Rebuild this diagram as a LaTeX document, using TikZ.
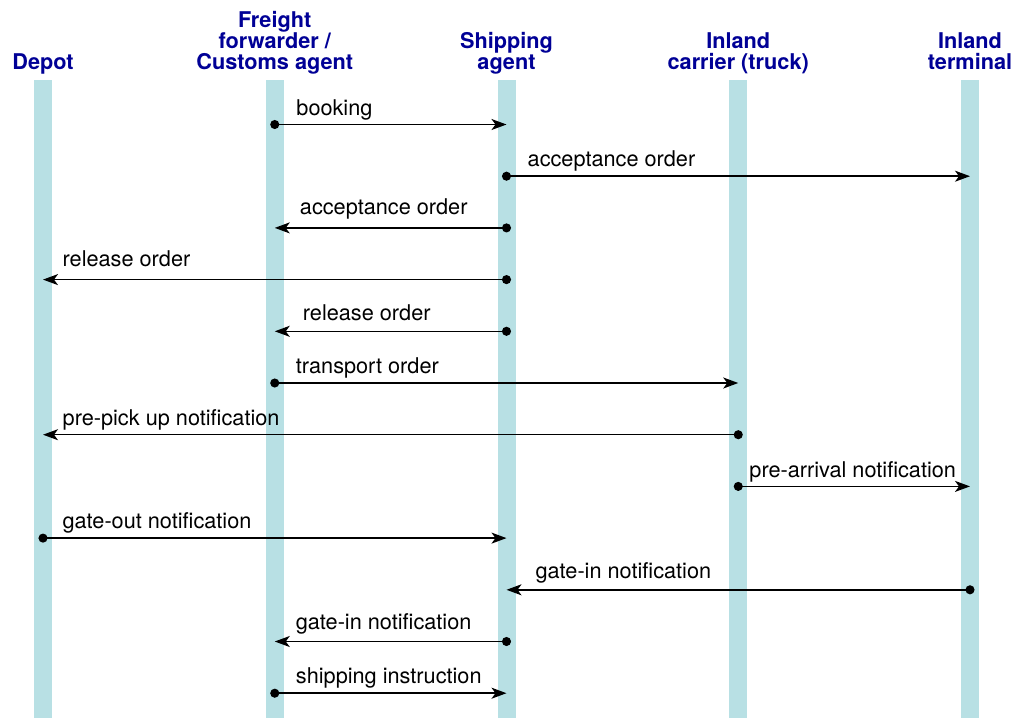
\documentclass[tikz,border=0pt]{standalone}
\usepackage{fontspec}
\setmainfont{TeX Gyre Heros}
\usetikzlibrary{positioning,arrows.meta}

\definecolor{lanecol}{RGB}{184,224,228}
\definecolor{headcol}{RGB}{0,0,150}

\tikzset{
  lane/.style={fill=lanecol, draw=none, minimum width=18pt, minimum height=638pt,
    inner sep=0pt, outer sep=0pt},
  head/.style={align=center, text=headcol, inner sep=0pt, text depth=5pt,
    font=\fontsize{21.7}{21}\selectfont\bfseries},
  msg/.style={line width=1.5pt, shorten <=-4.5pt,
    {Circle[length=9pt]}-{Stealth[length=15pt,width=11pt,inset=4pt]}},
  lbl/.style={anchor=base west, inner sep=0pt, font=\fontsize{21.7}{24}\selectfont}
}

\begin{document}
\begin{tikzpicture}[x=1pt,y=1pt]
  \useasboundingbox (0,0) rectangle (1018,-718);

  % lifelines
  \node[lane] (depot) at (43,-399) {};
  \node[lane, right=213.75pt of depot] (ff) {};
  \node[lane, right=213.75pt of ff] (ship) {};
  \node[lane, right=213.75pt of ship] (carrier) {};
  \node[lane, right=213.75pt of carrier] (term) {};

  \node[head, above=5.5pt of depot] (depot-h) {Depot};
  \node[head, above=5.5pt of ff] (ff-h) {Freight\\forwarder /\\Customs agent};
  \node[head, above=5.5pt of ship] (ship-h) {Shipping\\agent};
  \node[head, above=5.5pt of carrier] (carrier-h) {Inland\\carrier (truck)};
  \node[head, above=5.5pt of term] (term-h) {Inland\\terminal};

  % messages
  \coordinate (m1a) at (ff |- 0,-124.5);
  \coordinate (m1b) at (ship |- 0,-124.5);
  \draw[msg] (m1a) -- (m1b);
  \node[lbl] (l1) at ([shift={(21.5pt,9pt)}]m1a) {booking};

  \coordinate (m2a) at (ship |- 0,-176.2);
  \coordinate (m2b) at (term |- 0,-176.2);
  \draw[msg] (m2a) -- (m2b);
  \node[lbl] (l2) at ([shift={(21pt,10pt)}]m2a) {acceptance order};

  \coordinate (m3a) at (ship |- 0,-227.9);
  \coordinate (m3b) at (ff |- 0,-227.9);
  \draw[msg] (m3a) -- (m3b);
  \node[lbl] (l3) at ([shift={(25pt,13pt)}]m3b) {acceptance order};

  \coordinate (m4a) at (ship |- 0,-279.6);
  \coordinate (m4b) at (depot |- 0,-279.6);
  \draw[msg] (m4a) -- (m4b);
  \node[lbl] (l4) at ([shift={(19.5pt,13pt)}]m4b) {release order};

  \coordinate (m5a) at (ship |- 0,-331.3);
  \coordinate (m5b) at (ff |- 0,-331.3);
  \draw[msg] (m5a) -- (m5b);
  \node[lbl] (l5) at ([shift={(28pt,11pt)}]m5b) {release order};

  \coordinate (m6a) at (ff |- 0,-383);
  \coordinate (m6b) at (carrier |- 0,-383);
  \draw[msg] (m6a) -- (m6b);
  \node[lbl] (l6) at ([shift={(21pt,9.5pt)}]m6a) {transport order};

  \coordinate (m7a) at (carrier |- 0,-434.7);
  \coordinate (m7b) at (depot |- 0,-434.7);
  \draw[msg] (m7a) -- (m7b);
  \node[lbl] (l7) at ([shift={(19.5pt,9.5pt)}]m7b) {pre-pick up notification};

  \coordinate (m8a) at (carrier |- 0,-486.4);
  \coordinate (m8b) at (term |- 0,-486.4);
  \draw[msg] (m8a) -- (m8b);
  \node[lbl] (l8) at ([shift={(11pt,8.5pt)}]m8a) {pre-arrival notification};

  \coordinate (m9a) at (depot |- 0,-538.1);
  \coordinate (m9b) at (ship |- 0,-538.1);
  \draw[msg] (m9a) -- (m9b);
  \node[lbl] (l9) at ([shift={(19.5pt,9.5pt)}]m9a) {gate-out notification};

  \coordinate (m10a) at (term |- 0,-589.8);
  \coordinate (m10b) at (ship |- 0,-589.8);
  \draw[msg] (m10a) -- (m10b);
  \node[lbl] (l10) at ([shift={(29pt,11pt)}]m10b) {gate-in notification};

  \coordinate (m11a) at (ship |- 0,-641.5);
  \coordinate (m11b) at (ff |- 0,-641.5);
  \draw[msg] (m11a) -- (m11b);
  \node[lbl] (l11) at ([shift={(21pt,12pt)}]m11b) {gate-in notification};

  \coordinate (m12a) at (ff |- 0,-693.2);
  \coordinate (m12b) at (ship |- 0,-693.2);
  \draw[msg] (m12a) -- (m12b);
  \node[lbl] (l12) at ([shift={(21pt,9.5pt)}]m12a) {shipping instruction};
\end{tikzpicture}
\end{document}
